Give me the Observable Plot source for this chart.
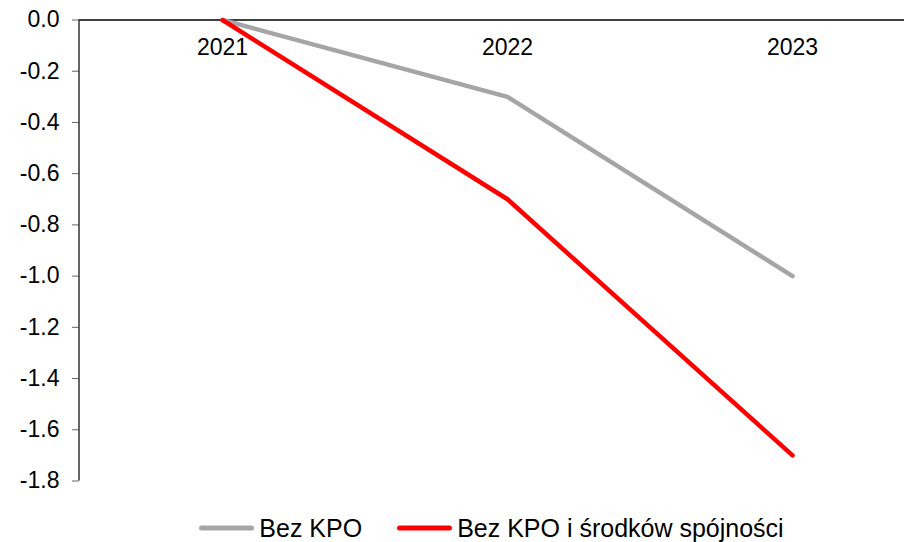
<!DOCTYPE html>
<html>
<head>
<meta charset="utf-8">
<script src="https://cdn.jsdelivr.net/npm/d3@7"></script>
<script src="https://cdn.jsdelivr.net/npm/@observablehq/plot@0.6"></script>
<style>
  html, body { margin: 0; padding: 0; background: #fff; }
  body { width: 904px; height: 542px; overflow: hidden; font-family: "Liberation Sans", Arial, sans-serif; }
  #legend {
    display: flex; justify-content: center; align-items: center;
    margin-left: 79px; width: 825px; padding-top: 15px;
    font-size: 25px; color: #000; line-height: 26px;
  }
  .item { display: flex; align-items: center; }
  .item + .item { margin-left: 35px; }
  .item svg { margin-right: 5px; }
</style>
</head>
<body>
<div id="chart"></div>
<div id="legend"></div>
<script>
// Years on the category axis
const years = ["2021", "2022", "2023"];
// Series names and values
const seriesNames = ["Bez KPO", "Bez KPO i środków spójności"];
const bezKPO = [0.0, -0.3, -1.0];
const bezKPOiSpojnosci = [0.0, -0.7, -1.7];
const seriesColors = ["#a5a5a5", "#ff0000"];
// Y axis tick values
const yTicks = [0.0, -0.2, -0.4, -0.6, -0.8, -1.0, -1.2, -1.4, -1.6, -1.8];

const rows = [
  ...years.map((year, i) => ({year, value: bezKPO[i], series: seriesNames[0]})),
  ...years.map((year, i) => ({year, value: bezKPOiSpojnosci[i], series: seriesNames[1]}))
];

const chart = Plot.plot({
  width: 904,
  height: 500,
  marginLeft: 79,
  marginRight: 0,
  marginTop: 19.5,
  marginBottom: 19.5,
  style: {fontFamily: "'Liberation Sans', Arial, sans-serif", fontSize: "23px", background: "#fff", overflow: "visible"},
  x: {type: "point", domain: years, range: [79, 934], padding: 0.5, axis: null},
  y: {domain: [-1.8, 0]},
  color: {domain: seriesNames, range: seriesColors},
  marks: [
    Plot.axisY({ticks: yTicks, tickFormat: d => d.toFixed(1), tickSize: 7, tickPadding: 13, stroke: "#666", fill: "#000", fontSize: 23, label: null}),
    Plot.ruleY([0], {stroke: "#000", strokeWidth: 1.5}),
    Plot.text(years, {x: d => d, y: () => 0, text: d => d, dy: 28, lineAnchor: "middle", fontSize: 23, fill: "#000"}),
    Plot.line(rows, {x: "year", y: "value", z: "series", stroke: "series", strokeWidth: 4.5, strokeLinecap: "round", strokeLinejoin: "round"})
  ]
});

// Vertical axis line along the left edge of the plot area
{
  const [y0, y1] = chart.scale("y").range;
  d3.select(chart).append("line")
    .attr("x1", 79).attr("x2", 79)
    .attr("y1", Math.max(y0, y1)).attr("y2", Math.min(y0, y1))
    .attr("stroke", "#333").attr("stroke-width", 1.5);
}

document.getElementById("chart").append(chart);

// Legend below the chart
const legend = d3.select("#legend");
seriesNames.forEach((name, i) => {
  const item = legend.append("div").attr("class", "item");
  const sw = item.append("svg").attr("width", 55).attr("height", 10);
  sw.append("line")
    .attr("x1", 2.5).attr("x2", 52.5).attr("y1", 5).attr("y2", 5)
    .attr("stroke", seriesColors[i]).attr("stroke-width", 5).attr("stroke-linecap", "round");
  item.append("span").text(name);
});
</script>
</body>
</html>
